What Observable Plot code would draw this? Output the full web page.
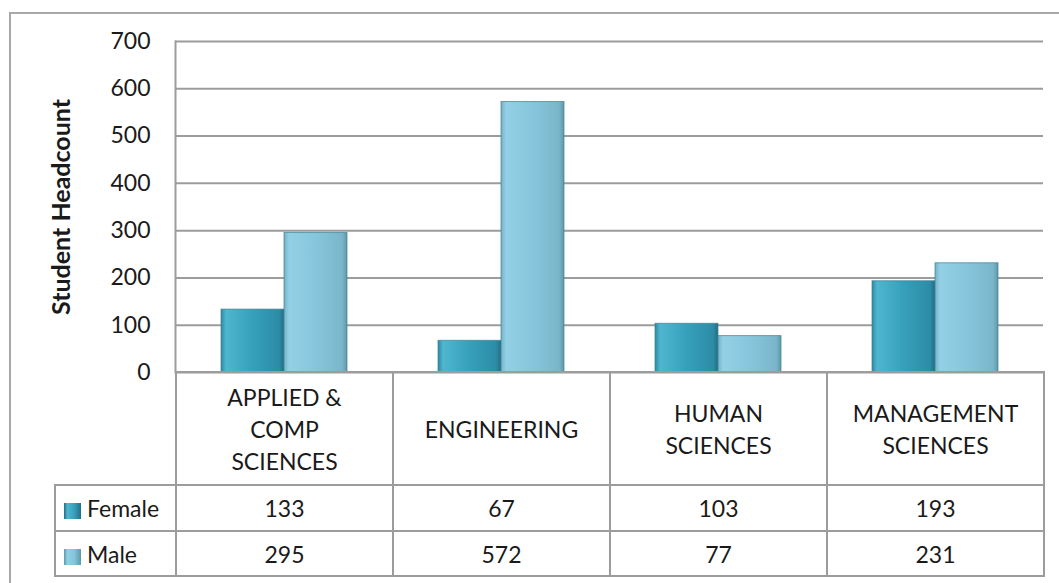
<!DOCTYPE html>
<html>
<head>
<meta charset="utf-8">
<script src="https://cdn.jsdelivr.net/npm/d3@7"></script>
<script src="https://cdn.jsdelivr.net/npm/@observablehq/plot@0.6"></script>
<style>
  html, body { margin: 0; padding: 0; background: #fff; width: 1059px; height: 583px; overflow: hidden; }
  #frame { position: absolute; left: 9px; top: 12px; width: 1100px; height: 700px;
           border-left: 2px solid #a8a8a8; border-top: 2px solid #a8a8a8; }
  #chart { position: absolute; left: 0; top: 0; }
  #tbl { position: absolute; left: 54px; top: 371px; border-collapse: collapse; table-layout: fixed;
         font-family: Lato, sans-serif; font-size: 23px; color: #1a1a1a; }
  #tbl td { border: 2px solid #9c9c9c; padding: 0; text-align: center; vertical-align: middle; white-space: nowrap; }
  #tbl td.corner { border-left: none; border-top: none; }
  #tbl td.cat { line-height: 32px; }
  #tbl td.leg { text-align: left; padding-left: 8px; }
  .sw { display: inline-block; width: 17px; height: 16px; margin-right: 6px; vertical-align: -2px; }
</style>
</head>
<body>
<div id="frame"></div>
<div id="chart"></div>
<table id="tbl"></table>
<script>
// ---- data ----
const categories = ["APPLIED & COMP SCIENCES", "ENGINEERING", "HUMAN SCIENCES", "MANAGEMENT SCIENCES"];
const categoryLines = [["APPLIED &", "COMP", "SCIENCES"], ["ENGINEERING"], ["HUMAN", "SCIENCES"], ["MANAGEMENT", "SCIENCES"]];
const series = ["Female", "Male"];
const femaleValues = [133, 67, 103, 193];
const maleValues = [295, 572, 77, 231];
const yTicks = [0, 100, 200, 300, 400, 500, 600, 700];
const yTitle = "Student Headcount";

const seriesValues = {Female: femaleValues, Male: maleValues};
const rows = categories.flatMap((c, i) => series.map(s => ({category: c, gender: s, value: seriesValues[s][i]})));

const chart = Plot.plot({
  width: 1059,
  height: 373,
  marginLeft: 175,
  marginRight: 16,
  marginTop: 41,
  marginBottom: 1,
  style: {fontFamily: "Lato, sans-serif", fontSize: "23px", color: "#1a1a1a", background: "transparent", overflow: "visible"},
  fx: {domain: categories, padding: 0, axis: null},
  x: {domain: series, paddingInner: 0, paddingOuter: 0.72, axis: null},
  y: {domain: [0, 700], ticks: yTicks, tickSize: 0, tickPadding: 25, label: yTitle,
      labelAnchor: "center", labelArrow: "none", labelOffset: 123},
  color: {domain: series, range: ["url(#gradF)", "url(#gradM)"]},
  marks: [
    Plot.gridY(yTicks, {stroke: "#9c9c9c", strokeOpacity: 1, strokeWidth: 2}),
    Plot.frame({anchor: "left", facet: "super", stroke: "#9c9c9c", strokeWidth: 2}),
    Plot.barY(rows, {fx: "category", x: "gender", y: "value", fill: "gender",
                     stroke: "#3d7f90", strokeWidth: 1, strokeOpacity: 0.7})
  ]
});

// gradients for the bevelled Excel-like bars
const ns = "http://www.w3.org/2000/svg";
const defs = document.createElementNS(ns, "defs");
defs.innerHTML = `
  <linearGradient id="gradF" x1="0" x2="1" y1="0" y2="0">
    <stop offset="0" stop-color="#2b8aa3"/>
    <stop offset="0.08" stop-color="#4fb6cf"/>
    <stop offset="0.5" stop-color="#36a0ba"/>
    <stop offset="0.92" stop-color="#2d8ca6"/>
    <stop offset="1" stop-color="#226f85"/>
  </linearGradient>
  <linearGradient id="gradM" x1="0" x2="1" y1="0" y2="0">
    <stop offset="0" stop-color="#74b2c6"/>
    <stop offset="0.08" stop-color="#93d0e5"/>
    <stop offset="0.5" stop-color="#86c6dc"/>
    <stop offset="0.92" stop-color="#7ab6ca"/>
    <stop offset="1" stop-color="#5f98aa"/>
  </linearGradient>`;
chart.insertBefore(defs, chart.firstChild);
chart.querySelectorAll("[aria-label='y-axis label']").forEach(el => {
  el.setAttribute("font-weight", "bold");
  el.setAttribute("font-size", "25");
});
document.getElementById("chart").append(chart);

// ---- data table below the plot ----
const tbl = document.getElementById("tbl");
const colgroup = document.createElement("colgroup");
[121, 217, 217, 217, 217].forEach(w => {
  const col = document.createElement("col");
  col.style.width = w + "px";
  colgroup.append(col);
});
tbl.append(colgroup);

const headRow = document.createElement("tr");
headRow.style.height = "113px";
const corner = document.createElement("td");
corner.className = "corner";
headRow.append(corner);
categoryLines.forEach(lines => {
  const td = document.createElement("td");
  td.className = "cat";
  td.innerHTML = lines.map(l => l.replace("&", "&amp;")).join("<br>");
  headRow.append(td);
});
tbl.append(headRow);

const swatch = {Female: "linear-gradient(to right, #226f85, #4fb6cf 20%, #38a0ba 60%, #226f85)",
                Male: "linear-gradient(to right, #5f98aa, #93cfe3 20%, #86c5da 60%, #5f98aa)"};
series.forEach((s, k) => {
  const tr = document.createElement("tr");
  tr.style.height = k === 0 ? "46px" : "45px";
  const leg = document.createElement("td");
  leg.className = "leg";
  leg.innerHTML = `<span class="sw" style="background:${swatch[s]}"></span>${s}`;
  tr.append(leg);
  seriesValues[s].forEach(v => {
    const td = document.createElement("td");
    td.textContent = v;
    tr.append(td);
  });
  tbl.append(tr);
});
</script>
</body>
</html>
